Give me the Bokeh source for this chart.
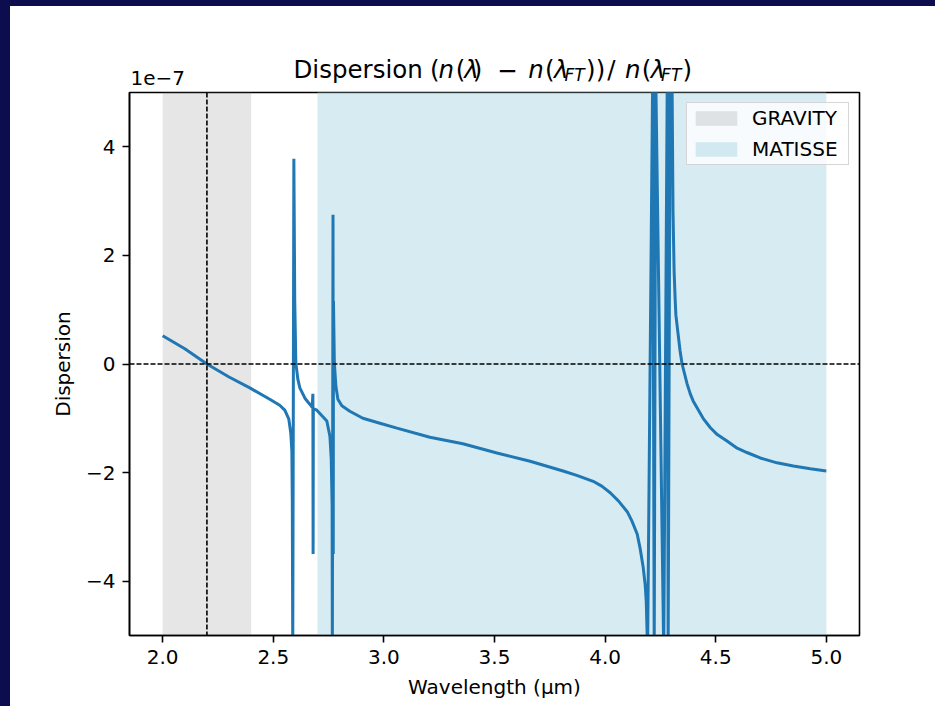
from bokeh.plotting import figure
from bokeh.models import Range1d, FixedTicker, Span
from bokeh.layouts import column
from bokeh.core.properties import value
from bokeh.embed import file_html
from bokeh.resources import INLINE

# Refractive-index dispersion relative to the fringe-tracker wavelength,
# sampled along the wavelength axis (values in units of 1e-7).
WAVELENGTH_UM = [
    2.000, 2.100, 2.200, 2.300, 2.394, 2.484, 2.529, 2.552, 2.570, 2.579,
    2.584, 2.586, 2.588, 2.593, 2.597, 2.602, 2.611, 2.620, 2.643, 2.665,
    2.676, 2.679, 2.680, 2.681, 2.697, 2.719, 2.742, 2.756, 2.762, 2.766,
    2.767, 2.770, 2.771, 2.772, 2.776, 2.783, 2.792, 2.810, 2.846, 2.905,
    2.982, 3.059, 3.208, 3.357, 3.511, 3.661, 3.810, 3.872, 3.946, 3.985,
    4.023, 4.060, 4.100, 4.121, 4.145, 4.158, 4.172, 4.181, 4.186, 4.190,
    4.192, 4.215, 4.222, 4.229, 4.265, 4.281, 4.285, 4.294, 4.303, 4.307,
    4.312, 4.317, 4.320, 4.330, 4.339, 4.348, 4.371, 4.385, 4.398, 4.443,
    4.475, 4.507, 4.551, 4.597, 4.641, 4.701, 4.777, 4.851, 4.928, 5.000,
]
DISPERSION_E7 = [
    0.52, 0.28, 0.00, -0.24, -0.44, -0.65, -0.76, -0.85, -1.01, -1.27,
    -1.60, -2.53, -5.30, 3.78, 1.16, 0.02, -0.28, -0.44, -0.63, -0.74,
    -0.80, -0.55, -3.50, -0.82, -0.85, -0.95, -1.05, -1.33, -1.75, -2.60,
    -5.30, 2.75, -3.50, 1.16, 0.02, -0.41, -0.65, -0.77, -0.87, -1.00,
    -1.09, -1.18, -1.35, -1.47, -1.64, -1.79, -1.97, -2.05, -2.16, -2.25,
    -2.37, -2.52, -2.72, -2.89, -3.13, -3.39, -3.74, -4.06, -4.37, -4.98,
    -5.30, 5.30, -5.30, 5.30, -5.30, 5.30, -5.30, 5.30, 5.00, 2.80,
    1.70, 1.16, 0.90, 0.55, 0.24, 0.00, -0.37, -0.55, -0.68, -1.00,
    -1.17, -1.30, -1.42, -1.55, -1.63, -1.73, -1.82, -1.88, -1.93, -1.97,
]

GRAVITY_BAND = [2.0, 2.4]
MATISSE_BAND = [2.7, 5.0]
LAMBDA_FT = 2.2
ZERO_LEVEL = 0.0

X_RANGE = (1.85, 5.15)
Y_RANGE = (-5.0, 5.0)
X_TICKS = [2.0, 2.5, 3.0, 3.5, 4.0, 4.5, 5.0]
X_TICK_LABELS = ["2.0", "2.5", "3.0", "3.5", "4.0", "4.5", "5.0"]
Y_TICKS = [-4, -2, 0, 2, 4]
Y_TICK_LABELS = ["\u22124", "\u22122", "0", "2", "4"]
SCALE_TEXT = "1e\u22127"

FONT = "DejaVu Sans"
NAVY = "#0b0d4e"
LINE_BLUE = "#1f77b4"

FIG_W = 925
HEAD_H = 84          # strip above the axes holding the title and scale text
PLOT_H = 616
BORDER_L = 119
BORDER_R = 76
FRAME_W = FIG_W - BORDER_L - BORDER_R

# ---------------- main axes ----------------
p = figure(
    width=FIG_W, height=PLOT_H, title=None,
    x_range=Range1d(*X_RANGE), y_range=Range1d(*Y_RANGE),
    output_backend="svg", toolbar_location=None,
    min_border_left=BORDER_L, min_border_right=BORDER_R,
    min_border_top=2, min_border_bottom=71,
    background_fill_color="white", border_fill_color="white",
)

# instrument bands
p.quad(left=[GRAVITY_BAND[0]], right=[GRAVITY_BAND[1]],
       bottom=[Y_RANGE[0] * 2], top=[Y_RANGE[1] * 2],
       fill_color="gray", fill_alpha=0.2, line_color=None,
       legend_label="GRAVITY")
p.quad(left=[MATISSE_BAND[0]], right=[MATISSE_BAND[1]],
       bottom=[Y_RANGE[0] * 2], top=[Y_RANGE[1] * 2],
       fill_color="lightblue", fill_alpha=0.5, line_color=None,
       legend_label="MATISSE")

p.line(WAVELENGTH_UM, DISPERSION_E7, line_color=LINE_BLUE, line_width=3)

p.add_layout(Span(location=ZERO_LEVEL, dimension="width", line_color="black",
                  line_width=1.6, line_dash="5 2"))
p.add_layout(Span(location=LAMBDA_FT, dimension="height", line_color="black",
                  line_width=1.6, line_dash="5 2"))

p.xgrid.visible = False
p.ygrid.visible = False
p.outline_line_color = "black"
p.outline_line_width = 1.6
p.outline_line_alpha = 1.0

p.xaxis.ticker = FixedTicker(ticks=X_TICKS)
p.xaxis.major_label_overrides = {t: s for t, s in zip(X_TICKS, X_TICK_LABELS)}
p.yaxis.ticker = FixedTicker(ticks=Y_TICKS)
p.yaxis.major_label_overrides = {t: s for t, s in zip(Y_TICKS, Y_TICK_LABELS)}
p.xaxis.axis_label = "Wavelength (\u00b5m)"
p.yaxis.axis_label = "Dispersion"

for ax in (p.xaxis[0], p.yaxis[0]):
    ax.axis_line_width = 1.6
    ax.axis_line_color = "black"
    ax.major_tick_line_width = 1.6
    ax.major_tick_line_color = "black"
    ax.major_tick_out = 7
    ax.major_tick_in = 0
    ax.minor_tick_line_color = None
    ax.major_label_text_font = FONT
    ax.major_label_text_font_size = "20px"
    ax.major_label_text_color = "black"
    ax.major_label_standoff = 7
    ax.axis_label_text_font = FONT
    ax.axis_label_text_font_size = "20px"
    ax.axis_label_text_font_style = "normal"
    ax.axis_label_text_color = "black"
    ax.axis_label_standoff = 8

lg = p.legend[0]
lg.location = "top_right"
lg.margin = 10
lg.padding = 3
lg.spacing = 7
lg.glyph_width = 52
lg.glyph_height = 18
lg.label_height = 20
lg.label_width = 93
lg.label_standoff = 10
lg.label_text_font = FONT
lg.label_text_font_size = "20px"
lg.label_text_color = "black"
lg.border_line_color = "#cccccc"
lg.border_line_alpha = 0.8
lg.border_line_width = 1.5
lg.background_fill_color = "white"
lg.background_fill_alpha = 0.8

# ---------------- header strip: title and scale factor ----------------
# Its frame has the same horizontal extent as the main axes, so x below is
# measured from the axes' left edge.
head = figure(
    width=FIG_W, height=HEAD_H, title=None,
    x_range=Range1d(0, FRAME_W), y_range=Range1d(0, HEAD_H),
    x_axis_type=None, y_axis_type=None,
    output_backend="svg", toolbar_location=None,
    min_border_left=BORDER_L, min_border_right=BORDER_R,
    min_border_top=0, min_border_bottom=0,
    background_fill_color="white", border_fill_color="white",
)
head.outline_line_color = None
head.outline_line_alpha = 0

# title runs: (text, x offset from the axes' left edge, italic, subscript)
TITLE_RUNS = [
    ("Dispersion", 164.0, False, False),
    ("(", 300.6, False, False),
    ("n", 309.0, True, False),
    ("(", 326.3, False, False),
    ("\u03bb", 334.8, True, False),
    (")", 343.3, False, False),
    ("\u2212", 367.8, False, False),
    ("n", 398.7, True, False),
    ("(", 415.6, False, False),
    ("\u03bb", 424.5, True, False),
    ("FT", 435.0, True, True),
    ("))", 456.6, False, False),
    ("/", 477.7, False, False),
    ("n", 495.4, True, False),
    ("(", 512.2, False, False),
    ("\u03bb", 521.2, True, False),
    ("FT", 531.6, True, True),
    (")", 552.9, False, False),
]
TITLE_BASE = 21
SUB_DROP = 5
SCALE_BASE = 13


def add_runs(runs, italic, sub):
    sel = [r for r in runs if r[2] == italic and r[3] == sub]
    if not sel:
        return
    head.text(
        x=[r[1] for r in sel],
        y=[TITLE_BASE - (SUB_DROP if sub else 0)] * len(sel),
        text=[r[0] for r in sel],
        text_font=value(FONT),
        text_font_size=value("17px" if sub else "24.5px"),
        text_font_style=value("italic" if italic else "normal"),
        text_color="black", text_baseline="alphabetic", text_align="left",
    )


add_runs(TITLE_RUNS, False, False)
add_runs(TITLE_RUNS, True, False)
add_runs(TITLE_RUNS, True, True)

head.text(x=[1], y=[SCALE_BASE], text=[SCALE_TEXT],
          text_font=value(FONT), text_font_size=value("20px"),
          text_color="black", text_baseline="alphabetic", text_align="left")

sheet = column(head, p, spacing=0, styles={"background-color": "white"})
sheet.margin = (6, 0, 0, 10)
page = column(sheet, styles={"background-color": NAVY})

open("out.html", "w").write(file_html(page, INLINE))
